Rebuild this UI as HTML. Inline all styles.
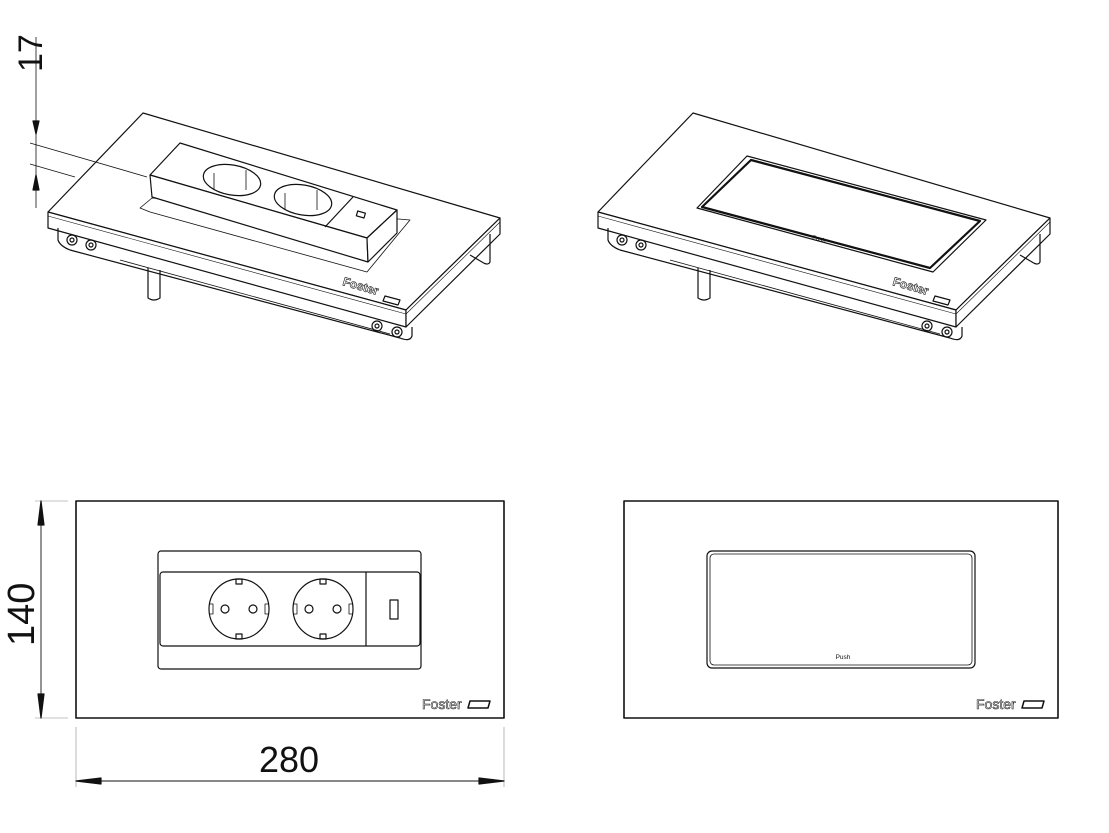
<!DOCTYPE html>
<html><head><style>body{margin:0;background:#fff}svg{display:block}</style></head><body>
<svg width="1109" height="833" viewBox="0 0 1109 833" xmlns="http://www.w3.org/2000/svg" font-family="Liberation Sans, sans-serif" fill="none" stroke="#111" stroke-width="1.2" stroke-linejoin="round">
<defs>
<g id="iso">
  <polygon points="143,113 500,218 406,310 48,212" fill="#fff"/>
  <polygon points="48,212 406,310 406,327 48,228" fill="#fff"/>
  <polygon points="406,310 500,218 500,234 406,327" fill="#fff"/>
  <line x1="48" y1="216" x2="406" y2="314" stroke-width="0.6"/>
  <line x1="406" y1="314" x2="500" y2="222" stroke-width="0.6"/>
  <path d="M58,228 L58,240 Q60,246 70,250 L400,338 Q410,342 412,336 L412,327"/>
  <path d="M120,260 L390,334" stroke-width="0.8"/>
  <path d="M490,234 L490,262 Q488,266 482,262 L470,255"/>
  <circle cx="72" cy="240" r="5"/><circle cx="72" cy="240" r="2"/>
  <circle cx="91" cy="245" r="5"/><circle cx="91" cy="245" r="2"/>
  <circle cx="377" cy="326" r="5"/><circle cx="377" cy="326" r="2"/>
  <circle cx="397" cy="332" r="5"/><circle cx="397" cy="332" r="2"/>
  <path d="M148,268 L148,298 Q154,302 160,298 L160,270"/>
  <text x="342" y="285" font-size="12" font-weight="bold" fill="#fff" stroke="#111" stroke-width="0.6" transform="rotate(16 342 285)">Foster</text>
  <path d="M385,296 L400,300 L398,305 L383,301 Z" transform="rotate(0)" stroke-width="1.2"/>
</g>
</defs>

<!-- TOP LEFT ISO -->
<use href="#iso"/>
<polygon points="140,208 152,198 410,220 400,232 367,272 150,212" fill="#fff" stroke-width="0.8"/>
<polygon points="180,143 397,210 367,238 150,175" fill="#fff"/>
<polygon points="150,175 367,238 368,262 152,197" fill="#fff"/>
<polygon points="367,238 397,210 397,233 368,262" fill="#fff"/>
<line x1="353" y1="197" x2="325" y2="227"/>
<ellipse cx="232" cy="180" rx="29" ry="15" fill="#fff" transform="rotate(10 232 180)"/>
<ellipse cx="303" cy="200" rx="29" ry="15" fill="#fff" transform="rotate(10 303 200)"/>
<path d="M214,173 L214,190 M246,170 L246,190 M285,193 L285,210 M317,190 L317,210" stroke-width="0.8"/>
<rect x="357" y="212" width="8" height="5" transform="rotate(16 361 214)"/>

<!-- 17 dim -->
<line x1="36" y1="37" x2="36" y2="208" stroke-width="0.8"/>
<polygon points="33,121 39,121 36,134" fill="#111"/>
<polygon points="33,190 39,190 36,175" fill="#111"/>
<line x1="30" y1="143" x2="147" y2="177" stroke-width="0.8"/>
<line x1="30" y1="164" x2="75" y2="177" stroke-width="0.8"/>
<text x="0" y="0" font-size="34" fill="#111" stroke="none" transform="translate(42 72) rotate(-90)">17</text>

<!-- TOP RIGHT ISO -->
<g transform="translate(550,0)"><use href="#iso"/></g>
<polygon points="747,156 986,220 933,272 697,208" fill="#fff" stroke-width="1.2"/>
<polygon points="751,160 980,221 930,268 702,207" stroke-width="2.2"/>
<text x="812" y="239" font-size="6" fill="#111" stroke="none" transform="rotate(16 812 239)">Push</text>

<!-- BOTTOM LEFT -->
<rect x="76" y="501" width="428" height="217" stroke-width="1.6"/>
<rect x="158" y="551" width="263" height="118" rx="3"/>
<rect x="160" y="572" width="260" height="74" rx="3"/>
<line x1="366" y1="572" x2="366" y2="646"/>
<g id="sock"><circle cx="239" cy="609" r="30"/><circle cx="225" cy="609" r="4"/><circle cx="253" cy="609" r="4"/>
<rect x="236" y="579" width="6" height="5"/><rect x="236" y="634" width="6" height="5"/>
<path d="M210,604 L213,604 L213,614 L210,614 M268,604 L265,604 L265,614 L268,614" stroke-width="0.8"/></g>
<g transform="translate(84,0)"><use href="#sock"/></g>
<rect x="390" y="600" width="8" height="19"/>
<text x="422" y="709" font-size="14" fill="#fff" stroke="#222" stroke-width="0.6">Foster</text>
<path d="M470,701 L490,701 L488,708 L468,708 Z" stroke-width="1.5"/>
<line x1="35" y1="501" x2="68" y2="501" stroke-width="0.6" stroke="#888"/>
<line x1="35" y1="718" x2="68" y2="718" stroke-width="0.6" stroke="#888"/>
<line x1="41" y1="501" x2="41" y2="718" stroke-width="0.9"/>
<polygon points="38,525 44,525 41,501" fill="#111"/>
<polygon points="38,694 44,694 41,718" fill="#111"/>
<text x="0" y="0" font-size="38" fill="#111" stroke="none" transform="translate(34 646) rotate(-90)">140</text>
<line x1="76" y1="727" x2="76" y2="787" stroke-width="0.6" stroke="#888"/>
<line x1="504" y1="727" x2="504" y2="787" stroke-width="0.6" stroke="#888"/>
<line x1="76" y1="781" x2="504" y2="781" stroke-width="0.9"/>
<polygon points="76,781 101,778 101,784" fill="#111"/>
<polygon points="504,781 479,778 479,784" fill="#111"/>
<text x="289" y="772" font-size="36" fill="#111" stroke="none" text-anchor="middle">280</text>

<!-- BOTTOM RIGHT -->
<rect x="624" y="501" width="434" height="217" stroke-width="1.6"/>
<rect x="707" y="551" width="268" height="117" rx="5" stroke-width="1.2"/>
<rect x="710" y="554" width="262" height="111" rx="4" stroke-width="0.8"/>
<text x="843" y="659" font-size="6.5" fill="#111" stroke="none" text-anchor="middle">Push</text>
<text x="976" y="709" font-size="14" fill="#fff" stroke="#222" stroke-width="0.6">Foster</text>
<path d="M1024,701 L1044,701 L1042,708 L1022,708 Z" stroke-width="1.5"/>
</svg>
</body></html>
